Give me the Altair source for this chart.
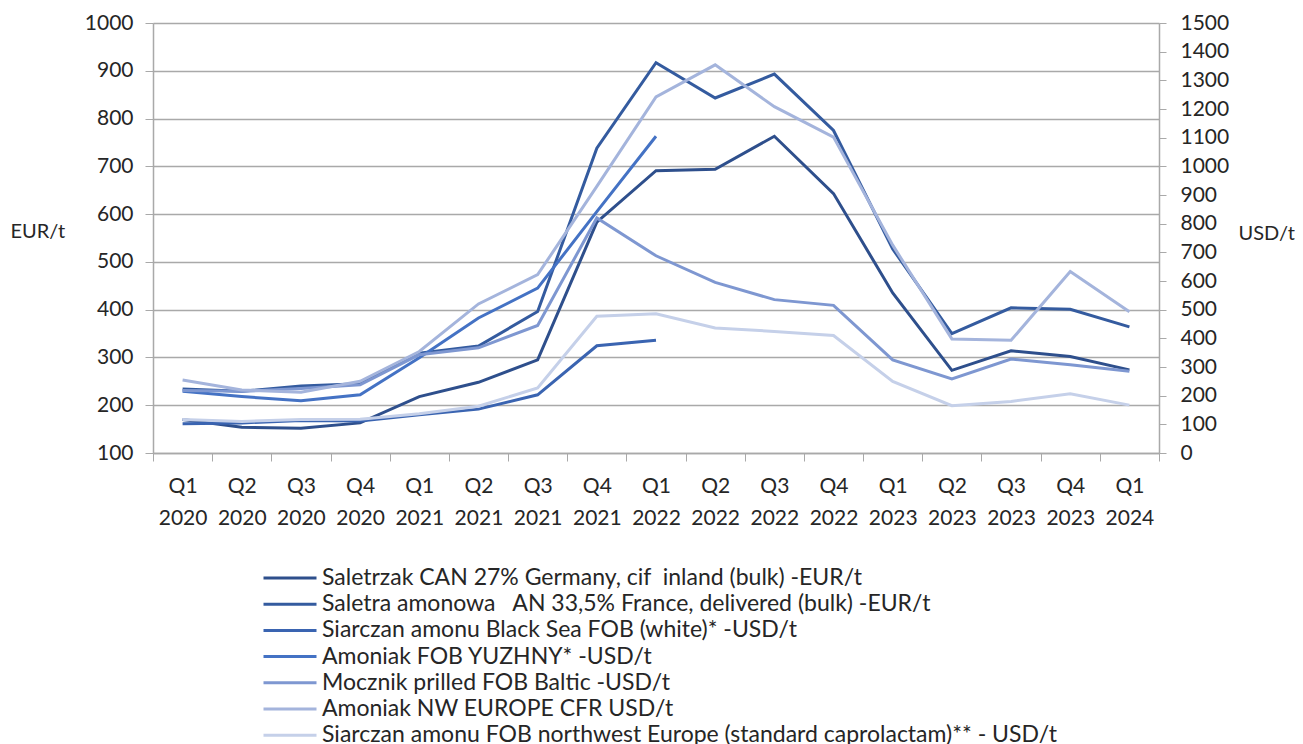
import altair as alt
import pandas as pd

quarters = ["Q1 2020", "Q2 2020", "Q3 2020", "Q4 2020",
            "Q1 2021", "Q2 2021", "Q3 2021", "Q4 2021",
            "Q1 2022", "Q2 2022", "Q3 2022", "Q4 2022",
            "Q1 2023", "Q2 2023", "Q3 2023", "Q4 2023", "Q1 2024"]

names = [
    "Saletrzak CAN 27% Germany, cif \u00a0inland (bulk) -EUR/t",
    "Saletra amonowa \u00a0 AN 33,5% France, delivered (bulk) -EUR/t",
    "Siarczan amonu Black Sea FOB (white)* -USD/t",
    "Amoniak FOB YUZHNY* -USD/t",
    "Mocznik prilled FOB Baltic -USD/t",
    "Amoniak NW EUROPE CFR USD/t",
    "Siarczan amonu FOB northwest Europe (standard caprolactam)** - USD/t",
]

colors = ["#2E4F8C", "#345B9F", "#3A64B1", "#4472C4", "#7E97D1", "#A4B4DC", "#C5D0E9"]

# EUR/t series (left axis)
can_eur = [170, 154, 152, 163, 218, 248, 295, 583, 691, 694, 763, 643, 435, 273, 314, 302, 274]
an_eur = [234, 229, 240, 245, 309, 324, 396, 738, 917, 843, 893, 775, 527, 350, 404, 401, 364]

# USD/t series (right axis)
as_blacksea_usd = [102, 105, 113, 112, 133, 153, 203, 374, 393]
nh3_yuzhny_usd = [215, 197, 182, 203, 332, 471, 575, 842, 1105]
urea_baltic_usd = [218, 215, 225, 238, 343, 367, 445, 820, 688, 595, 535, 515, 325, 258, 328, 308, 285]
nh3_nwe_usd = [255, 220, 212, 250, 354, 520, 622, 930, 1242, 1354, 1208, 1102, 725, 398, 393, 633, 493]
as_nwe_usd = [117, 110, 117, 118, 137, 163, 227, 477, 486, 436, 424, 410, 250, 165, 180, 207, 167]

series = [
    (names[0], can_eur, "EUR"),
    (names[1], an_eur, "EUR"),
    (names[2], as_blacksea_usd, "USD"),
    (names[3], nh3_yuzhny_usd, "USD"),
    (names[4], urea_baltic_usd, "USD"),
    (names[5], nh3_nwe_usd, "USD"),
    (names[6], as_nwe_usd, "USD"),
]

rows = []
for name, vals, cur in series:
    for q, v in zip(quarters, vals):
        rows.append({"quarter": q, "series": name, "value": v, "cur": cur})
df = pd.DataFrame(rows)

FONT = "Lato"
TXT = "#262626"
GRID = "#A9A9A9"
W, H = 1006, 430
AX = 21

color = alt.Color("series:N", scale=alt.Scale(domain=names, range=colors),
                  legend=alt.Legend(orient="none", legendX=109, legendY=545,
                                    title=None, direction="vertical",
                                    symbolType="stroke", symbolSize=2809,
                                    symbolStrokeWidth=3, labelFont=FONT,
                                    labelFontSize=23, labelColor=TXT,
                                    labelLimit=1000, rowPadding=3.2, padding=0,
                                    clipHeight=20, labelOffset=4))

x = alt.X("quarter:N", sort=quarters, bandPosition=0.5,
          scale=alt.Scale(type="band", paddingInner=0, paddingOuter=0),
          axis=alt.Axis(title=None, tickBand="extent", labelAngle=0,
                        labelExpr="split(datum.label, ' ')",
                        labelFont=FONT, labelFontSize=AX, labelColor=TXT,
                        labelLineHeight=32, labelPadding=14, tickSize=8,
                        tickColor=GRID, domainColor=GRID, domainWidth=1.5,
                        labelBaseline="top"))

base = alt.Chart(df).mark_line(strokeWidth=3, strokeJoin="miter")

eur = base.transform_filter(alt.datum.cur == "EUR").encode(
    x=x,
    y=alt.Y("value:Q", scale=alt.Scale(domain=[100, 1000], nice=False),
            axis=alt.Axis(title="EUR/t", titleAngle=0, titleX=-143, titleY=208,
                          titleAlign="left", titleBaseline="middle",
                          titleFont=FONT, titleFontSize=20, titleFontWeight="normal",
                          titleColor=TXT, format="d",
                          values=list(range(100, 1001, 100)), grid=True,
                          gridColor=GRID, gridWidth=1.5, tickSize=8,
                          tickColor=GRID, domainColor=GRID, domainWidth=1.5,
                          labelFont=FONT, labelFontSize=AX, labelColor=TXT,
                          labelPadding=12)),
    color=color,
    detail="series:N",
)

usd = base.transform_filter(alt.datum.cur == "USD").encode(
    x=x,
    y=alt.Y("value:Q", scale=alt.Scale(domain=[0, 1500], nice=False),
            axis=alt.Axis(title="USD/t", orient="right", titleAngle=0,
                          titleX=79, titleY=210, titleAlign="left",
                          titleBaseline="middle", titleFont=FONT,
                          titleFontSize=20, titleFontWeight="normal",
                          titleColor=TXT, format="d",
                          values=list(range(0, 1501, 100)), grid=False,
                          tickSize=7, tickColor=GRID, domainColor=GRID,
                          domainWidth=1.5, labelFont=FONT, labelFontSize=AX,
                          labelColor=TXT, labelPadding=14)),
    color=color,
    detail="series:N",
)

chart = alt.layer(eur, usd).resolve_scale(y="independent").properties(
    width=W, height=H,
    autosize=alt.AutoSizeParams(type="none"),
    padding={"left": 145, "top": 15, "right": 136, "bottom": 300},
).configure_view(stroke=None).configure(background="white")

chart.save("out.html", embed_options={"renderer": "svg", "actions": False})
